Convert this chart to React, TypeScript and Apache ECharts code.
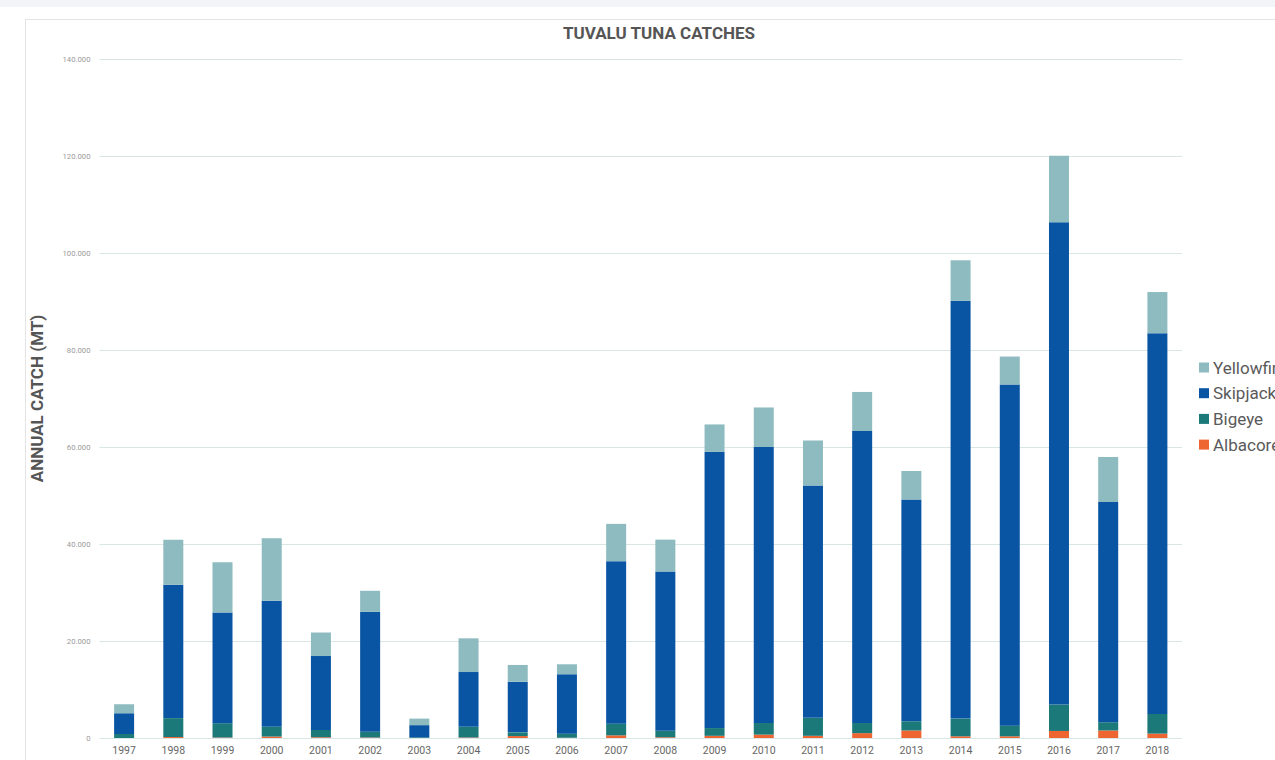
import React, { useEffect, useRef } from "react";
import * as echarts from "echarts";

// Annual tuna catch in Tuvalu waters, metric tonnes, by species
const years = [
  "1997", "1998", "1999", "2000", "2001", "2002", "2003", "2004", "2005", "2006", "2007",
  "2008", "2009", "2010", "2011", "2012", "2013", "2014", "2015", "2016", "2017", "2018",
];

const albacore = [
  0, 200, 100, 300, 150, 100, 0, 100, 400, 50, 550,
  150, 450, 700, 450, 1000, 1550, 350, 350, 1450, 1550, 900,
];

const bigeye = [
  800, 3900, 2950, 2000, 1500, 1200, 150, 2200, 760, 850, 2400,
  1350, 1600, 2400, 3700, 2100, 1900, 3650, 2200, 5450, 1700, 4050,
];

const skipjack = [
  4300, 27500, 22850, 26000, 15250, 24700, 2500, 11300, 10450, 12250, 33500,
  32850, 56950, 56900, 47900, 60200, 45750, 86150, 70350, 99450, 45400, 78500,
];

const yellowfin = [
  1850, 9300, 10350, 12900, 4850, 4350, 1350, 6950, 3450, 2050, 7700,
  6550, 5650, 8150, 9300, 8050, 5850, 8350, 5750, 13700, 9300, 8500,
];

const speciesColors = {
  Albacore: "#ee6532",
  Bigeye: "#1b7a79",
  Skipjack: "#0a55a3",
  Yellowfin: "#8dbbbf",
};

const formatThousands = (v: number) =>
  String(v).replace(/\B(?=(\d{3})+(?!\d))/g, ".");

export default function App() {
  const ref = useRef<HTMLDivElement>(null);

  useEffect(() => {
    document.body.style.margin = "0";
    if (!ref.current) return;
    const chart = echarts.init(ref.current, null, { renderer: "svg" });

    const stackSeries = (name: keyof typeof speciesColors, data: number[]) => ({
      name,
      type: "bar" as const,
      stack: "catch",
      barWidth: 20,
      data,
      itemStyle: { color: speciesColors[name] },
      emphasis: { disabled: true },
    });

    chart.setOption({
      animation: false,
      backgroundColor: "transparent",
      textStyle: { fontFamily: "Roboto, sans-serif" },
      title: {
        text: "TUVALU TUNA CATCHES",
        left: 654,
        top: 19,
        textAlign: "center",
        textStyle: {
          fontFamily: "Roboto, sans-serif",
          fontSize: 17,
          fontWeight: "bold",
          color: "#555555",
        },
      },
      legend: {
        orient: "vertical",
        left: 1194,
        top: 354,
        itemWidth: 10,
        itemHeight: 10,
        itemGap: 8.7,
        icon: "rect",
        data: ["Yellowfin", "Skipjack", "Bigeye", "Albacore"],
        textStyle: {
          fontSize: 17,
          color: "#5a5a5a",
          padding: [0, 0, 0, -1],
        },
      },
      grid: {
        left: 99.5,
        right: 93,
        top: 59,
        bottom: 22,
        containLabel: false,
      },
      xAxis: {
        type: "category",
        data: years,
        axisLine: { show: false },
        axisTick: { show: false },
        axisLabel: {
          fontSize: 10.5,
          color: "#666666",
          margin: 7,
        },
      },
      yAxis: {
        type: "value",
        min: 0,
        max: 140000,
        interval: 20000,
        name: "ANNUAL CATCH (MT)",
        nameLocation: "middle",
        nameGap: 54,
        nameTextStyle: {
          fontSize: 17,
          fontWeight: "bold",
          color: "#555555",
        },
        axisLine: { show: false },
        axisTick: { show: false },
        axisLabel: {
          fontSize: 7.7,
          color: "#9a9a9a",
          margin: 9,
          formatter: (v: number) => formatThousands(v),
        },
        splitLine: {
          lineStyle: { color: "#d9e6e6", width: 1 },
        },
      },
      series: [
        stackSeries("Albacore", albacore),
        stackSeries("Bigeye", bigeye),
        stackSeries("Skipjack", skipjack),
        stackSeries("Yellowfin", yellowfin),
      ],
    });

    return () => chart.dispose();
  }, []);

  return (
    <div
      style={{
        position: "relative",
        width: 1275,
        height: 760,
        overflow: "hidden",
        background: "#ffffff",
      }}
    >
      <div
        style={{
          position: "absolute",
          left: 0,
          top: 0,
          width: 1275,
          height: 7,
          background: "#f3f4f8",
        }}
      />
      <div
        style={{
          position: "absolute",
          left: 25,
          top: 19,
          width: 1300,
          height: 800,
          borderLeft: "1px solid #e4e4e4",
          borderTop: "1px solid #e4e4e4",
          background: "#ffffff",
        }}
      />
      <div
        ref={ref}
        style={{ position: "absolute", left: 0, top: 0, width: 1275, height: 760 }}
      />
    </div>
  );
}
